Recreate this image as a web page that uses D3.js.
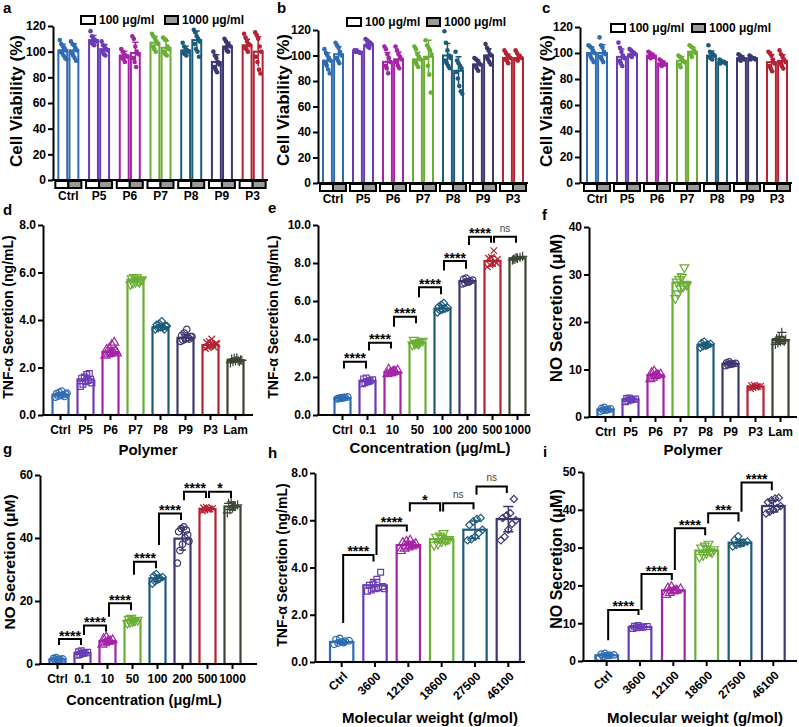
<!DOCTYPE html>
<html><head><meta charset="utf-8">
<script src="https://cdn.jsdelivr.net/npm/d3@7"></script>
<style>body{margin:0;background:#fff}svg{display:block}</style>
</head><body><svg id="c" width="799" height="727"></svg>
<script>
// ---------------- DATA ----------------
const polymers = ["Ctrl","P5","P6","P7","P8","P9","P3"];
const polymersLam = ["Ctrl","P5","P6","P7","P8","P9","P3","Lam"];
const concentrations = ["Ctrl","0.1","10","50","100","200","500","1000"];
const molWeights = ["Ctrl","3600","12100","18600","27500","46100"];
const doseLabels = ["100 μg/ml","1000 μg/ml"];
const viabTicks = [0,20,40,60,80,100,120];

// panel a (cell viability)
const viabA100 = [101,109,97,107,101,92,105];
const viabA1000 = [101,102,99,103,109,104,100];
const ptsA100 = [[109,106,104,103,101,100,99,97,95,94],[116,112,110,109,108,107,106,105],[102,100,98,97,96,95,94,92],[114,112,110,108,106,104,102,100],[107,104,102,101,100,99,98,97],[100,97,95,92,90,88,86,84],[114,111,108,106,105,103,102,100]];
const ptsA1000 = [[108,106,105,103,101,99,97,95,93],[108,105,104,102,101,100,98,97],[112,110,104,100,98,95,92,88],[111,110,109,104,102,100,98,97],[117,115,112,110,108,106,102,100,96],[110,108,106,105,104,103,101,100],[115,113,110,104,100,96,92,86,83]];
// panel b
const viabB100 = [96,103,95,97,100,93,98];
const viabB1000 = [101,108,97,99,88,100,98];
const ptsB100 = [[105,102,100,98,96,94,92,89,86],[104,103.5,103,102.5,102,103,104],[107,105,101,98,95,92,90,86],[107,105,101,99,97,95,93,91],[119,110,104,100,98,96,94,92,90],[98,97,96,94,93,92,90,88],[104,102,100,99,98,97,96,94]];
const ptsB1000 = [[110,108,106,103,100,98,96,94],[113,112,111,110,109,108,107,106],[107,104,101,99,97,95,92,90],[112,108,106,104,101,98,92,85,71],[103,96,94,92,90,87,82,76,72,70],[109,106,104,101,100,99,97,95,93],[104,102,100,99,98,97,96]];
// panel c
const viabC100 = [100,97,98,94,98,96,93];
const viabC1000 = [100,99,92,101,93,96,94];
const ptsC100 = [[106,105,104,102,100,99,97,95,93],[108,104,101,98,96,94,92,90],[101,100,99,98,97,97,96],[98,97,96,94,93,91,89],[106,101,100,99,98,97,96,95],[99,98,97,96,95,95,94],[101,100,98,95,92,90,88,86]];
const ptsC1000 = [[112,106,104,101,99,97,95,93],[103,102,101,100,99,98,97],[95,94,93,92,91,91,90],[106,105,104,102,100,99,97],[95,94,93,93,92,92],[98,97,96,96,95,95],[102,99,97,95,93,92,90,88]];

// panel d: TNF-α vs polymer (ng/mL)
const tnfPolymer = [0.85,1.5,2.65,5.7,3.7,3.25,2.95,2.3];
const ptsD = [[0.75,0.8,0.82,0.85,0.88,0.9,0.95,1.0,0.78,0.92],[1.2,1.3,1.4,1.45,1.5,1.55,1.6,1.7,1.75,1.35],[2.5,2.55,2.6,2.65,2.7,2.75,2.8,2.95,3.05,2.6],[5.5,5.55,5.6,5.65,5.7,5.75,5.8,5.8,5.6,5.7],[3.6,3.65,3.7,3.7,3.75,3.8,3.85,3.95,3.6,3.75],[3.1,3.15,3.2,3.25,3.3,3.35,3.45,3.6,3.2,3.3],[2.8,2.85,2.9,2.95,3.0,3.05,3.1,3.2,2.85,3.0],[2.2,2.25,2.28,2.3,2.32,2.35,2.38,2.4,2.25,2.3]];
// panel e: TNF-α vs concentration
const tnfConc = [0.9,1.8,2.25,3.8,5.6,7.05,8.1,8.25];
const ptsE = [[0.85,0.87,0.9,0.92,0.95,0.88,0.9,0.93],[1.65,1.7,1.75,1.8,1.85,1.9,1.95,1.78],[2.15,2.2,2.25,2.3,2.35,2.4,2.2,2.28],[3.7,3.75,3.8,3.85,3.9,3.95,3.8,3.75],[5.4,5.5,5.55,5.6,5.65,5.7,5.8,5.9],[6.9,6.95,7.0,7.05,7.1,7.15,7.2,7.0],[7.8,7.9,8.0,8.1,8.2,8.25,8.3,8.65,8.0],[8.15,8.2,8.25,8.3,8.35,8.2,8.28]];
const sigE = [[0,1,"****",2.8,2.45,2.45],[1,2,"****",3.8,3.4,3.5],[2,3,"****",5.17,4.65,4.83],[3,4,"****",6.72,6.2,6.35],[4,5,"****",8.1,7.6,7.7],[5,6,"****",9.38,8.95,9.07],[6,7,"ns",9.38,9.07,9.07]];
// panel f: NO vs polymer (μM)
const noPolymer = [1.6,3.7,8.8,28.3,15.2,11.2,6.4,16.2];
const ptsF = [[1.2,1.4,1.5,1.6,1.7,1.8,2.0,1.5],[3.2,3.4,3.6,3.7,3.8,3.9,4.0,3.7],[8.0,8.3,8.6,8.8,9.0,9.3,9.6,8.9],[25.0,26.0,27.0,27.5,28.0,28.5,29.0,29.5,31.5,27.8],[14.6,14.9,15.0,15.2,15.4,15.6,15.9,15.1],[10.8,11.0,11.1,11.2,11.3,11.4,11.6,11.2],[6.0,6.2,6.3,6.4,6.5,6.6,6.7,6.4],[15.3,15.6,15.9,16.1,16.3,16.5,16.8,17.8,16.0]];
// panel g: NO vs concentration
const noConc = [1.5,3.5,7.3,13.8,27.2,39.8,49.2,50.0];
const ptsG = [[1.0,1.2,1.4,1.5,1.6,1.8,2.0,1.5],[2.8,3.0,3.3,3.5,3.7,3.9,4.2,3.5],[6.2,6.6,7.0,7.3,7.6,8.0,8.5,7.2],[13.0,13.3,13.6,13.8,14.0,14.3,14.6,13.8],[25.5,26.2,26.8,27.2,27.6,28.0,28.6,27.0],[32,36,38,40,41,42,43,43.5,42.5,39],[48.6,48.9,49.1,49.2,49.4,49.6,49.8,49.2],[48,49,49.5,50,50.5,51,51.5,50.2]];
const sigG = [[0,1,"****",7.9,6.0,6.0],[1,2,"****",12.2,9.2,10.3],[2,3,"****",19.3,15,17.1],[3,4,"****",32.5,28.3,30.4],[4,5,"****",47.8,37.8,45.7],[5,6,"****",54.7,52,52.7],[6,7,"*",54.7,52.7,52.7]];
// panel h: TNF-α vs molecular weight
const tnfMw = [0.85,3.25,4.95,5.2,5.6,6.05];
const ptsH = [[0.75,0.8,0.85,0.88,0.9,0.95,1.0,0.82],[3.0,3.05,3.1,3.15,3.2,3.25,3.3,3.5,3.8,3.1],[4.7,4.8,4.85,4.9,5.0,5.05,5.1,5.15,4.95],[4.95,5.0,5.1,5.15,5.2,5.3,5.35,5.45,5.2],[5.15,5.2,5.3,5.45,5.6,5.8,5.95,6.05,6.1],[5.15,5.3,5.6,5.85,6.0,6.1,6.2,6.3,6.9]];
const sigH = [[0,1,"****",4.53,1.65,4.25],[1,2,"****",5.78,4.53,5.52],[2,3,"*",6.72,6.37,6.37],[3,4,"ns",6.72,6.37,6.47],[4,5,"ns",7.43,7.08,7.15]];
// panel i: NO vs molecular weight
const noMw = [1.5,9.0,18.7,29.2,31.3,41.0];
const ptsI = [[1.0,1.2,1.4,1.5,1.6,1.8,2.0,1.5],[8.6,8.8,8.9,9.0,9.1,9.2,9.4,9.0],[17.5,18.0,18.4,18.7,19.0,19.3,19.6,18.6],[27.5,28.0,28.5,29.0,29.5,30.0,30.5,31.0,28.8],[30.3,30.7,31.0,31.3,31.6,32.0,33.0,31.2],[39.0,39.5,40.0,40.5,41.0,42.0,42.5,43.0,43.2]];
const sigI = [[0,1,"****",13.5,5.5,12.2],[1,2,"****",23,13.5,21.4],[2,3,"****",35.1,24.1,33.3],[3,4,"***",39.1,36.4,36.9],[4,5,"****",47.2,39.5,45.2]];

// ---------------- STYLE ----------------
const groupColors = ["#2f6cb3","#6a3cb4","#a424a5","#6aae34","#1d5b7b","#3d376f","#b52232","#3a4534"];
const shapes8 = ["circle","square","triangle","triangleDown","diamond","circle","times","plus"];
const shapes6 = ["circle","square","triangle","triangleDown","diamond","diamond"];
const FONT = '"Liberation Sans", Arial, Helvetica, sans-serif';
const svg = d3.select("#c");

function symPath(shape, size){
  const m = {circle:d3.symbolCircle, square:d3.symbolSquare, triangle:d3.symbolTriangle, triangleDown:d3.symbolTriangle,
    diamond:d3.symbolDiamond2||d3.symbolDiamond, times:d3.symbolTimes||d3.symbolCross, plus:d3.symbolPlus||d3.symbolCross};
  return d3.symbol().type(m[shape]).size(size)();
}
function jit(i, half){ return ((i%5)-2)/2*half + (Math.floor(i/5)%2 ? half*0.25 : 0); }

function txt(x,y,s,size,opts={}){
  const t = svg.append("text").attr("x",x).attr("y",y).text(s)
    .style("font-family",FONT).style("font-size",size+"px").style("font-weight",opts.weight||"bold")
    .attr("fill",opts.fill||"#000").attr("text-anchor",opts.anchor||"start");
  if(opts.rot) t.attr("transform",`rotate(${opts.rot},${x},${y})`);
  return t;
}
function yAxis(y, ax, ticks, fmt){
  const a = svg.append("g").attr("transform",`translate(${ax},0)`)
    .call(d3.axisLeft(y).tickValues(ticks).tickFormat(fmt).tickSize(5).tickSizeOuter(0).tickPadding(2));
  a.select(".domain").attr("stroke","#000").attr("stroke-width",2);
  a.selectAll(".tick line").attr("stroke","#000").attr("stroke-width",2);
  a.selectAll(".tick text").attr("fill","#000").style("font-family",FONT).style("font-size","12px").style("font-weight","bold");
}

// ---------- viability panels a-c ----------
function viability(o){
  const y = d3.scaleLinear().domain([0,120]).range([o.yBot,o.yTop]);
  const gx = d3.scaleBand().domain(polymers).range([o.x0,o.x1]);
  const sx = d3.scaleBand().domain(doseLabels).range([-10,10]).paddingInner(0.2);
  const bw = sx.bandwidth();
  const series = [[o.m100,o.p100],[o.m1000,o.p1000]];
  polymers.forEach((cat,gi)=>{
    const cx = gx(cat)+gx.bandwidth()/2, col = groupColors[gi];
    series.forEach(([means,pts],si)=>{
      const bx = cx + sx(doseLabels[si]);
      const m = means[gi], sd = d3.deviation(pts[gi]);
      svg.append("rect").attr("x",bx).attr("y",y(m)).attr("width",bw).attr("height",o.yBot-y(m))
        .attr("fill","#fff").attr("stroke",col).attr("stroke-width",2);
      const mx = bx+bw/2;
      pts[gi].forEach((v,i)=>svg.append("circle").attr("cx",mx+jit(i,3)).attr("cy",y(v)).attr("r",2.3).attr("fill",col));
      svg.append("path").attr("d",`M${mx},${y(m-sd)}V${y(m+sd)}M${mx-3},${y(m+sd)}H${mx+3}`)
        .attr("stroke",col).attr("stroke-width",1.5).attr("fill","none");
    });
    svg.append("rect").attr("x",cx-13).attr("y",o.yBot+1).attr("width",13).attr("height",7).attr("fill","#fff").attr("stroke","#000").attr("stroke-width",2);
    svg.append("rect").attr("x",cx).attr("y",o.yBot+1).attr("width",13).attr("height",7).attr("fill","#9a9a9a").attr("stroke","#000").attr("stroke-width",2);
    txt(cx,o.yBot+20,cat,12,{anchor:"middle"});
  });
  svg.append("line").attr("x1",o.x0-1).attr("x2",o.x1).attr("y1",o.yBot).attr("y2",o.yBot).attr("stroke","#000").attr("stroke-width",2);
  yAxis(y,o.ax,viabTicks,d3.format("d"));
  svg.append("rect").attr("x",o.lx1).attr("y",o.ly-8).attr("width",14).attr("height",8).attr("fill","#fff").attr("stroke","#000").attr("stroke-width",2);
  txt(o.lx1+18,o.ly,doseLabels[0],12);
  svg.append("rect").attr("x",o.lx2).attr("y",o.ly-8).attr("width",13).attr("height",8).attr("fill","#9a9a9a").attr("stroke","#000").attr("stroke-width",2);
  txt(o.lx2+17,o.ly,doseLabels[1],12);
  txt(o.tx,o.ty,"Cell Viability (%)",17,{anchor:"middle",rot:-90});
  txt(o.lab[0],o.lab[1],o.label,15);
}
viability({x0:53,x1:268,ax:53,yBot:180,yTop:26,m100:viabA100,m1000:viabA1000,p100:ptsA100,p1000:ptsA1000,lx1:81,lx2:165,ly:24,tx:22,ty:101,lab:[3,13],label:"a"});
viability({x0:318,x1:528,ax:318,yBot:183,yTop:30,m100:viabB100,m1000:viabB1000,p100:ptsB100,p1000:ptsB1000,lx1:347,lx2:427,ly:26,tx:289,ty:100,lab:[277,13],label:"b"});
viability({x0:582,x1:792,ax:580,yBot:183,yTop:27,m100:viabC100,m1000:viabC1000,p100:ptsC100,p1000:ptsC1000,lx1:611,lx2:692,ly:32,tx:552,ty:101,lab:[542,13],label:"c"});

// ---------- bar panels d-i ----------
function barPanel(o){
  const y = d3.scaleLinear().domain(o.domain).range([o.yBot,o.yTop]);
  const x = d3.scaleBand().domain(o.cats).range([o.x0,o.x1]).paddingInner(o.pad).paddingOuter(o.pad/2);
  const bw = x.bandwidth();
  o.cats.forEach((c,i)=>{
    const col = groupColors[i], m = o.means[i], sd = d3.deviation(o.pts[i]);
    const bx = x(c), cx = bx+bw/2;
    svg.append("rect").attr("x",bx).attr("y",y(m)).attr("width",bw).attr("height",o.yBot-y(m))
      .attr("fill","#fff").attr("stroke",col).attr("stroke-width",2.2);
    const sh = o.shapes[i];
    o.pts[i].forEach((v,k)=>{
      let tr = `translate(${cx+jit(k,bw*0.32)},${y(v)})`;
      if(sh==="triangleDown") tr += " rotate(180)";
      svg.append("path").attr("d",symPath(sh, sh==="times"||sh==="plus"?30:34)).attr("transform",tr)
        .attr("fill","none").attr("stroke",col).attr("stroke-width",1.2);
    });
    svg.append("path").attr("d",`M${cx},${y(m-sd)}V${y(m+sd)}M${cx-bw*0.22},${y(m+sd)}H${cx+bw*0.22}M${cx-bw*0.22},${y(m-sd)}H${cx+bw*0.22}`)
      .attr("stroke",col).attr("stroke-width",1.5).attr("fill","none");
  });
  const xa = svg.append("g").attr("transform",`translate(0,${o.yBot})`)
    .call(d3.axisBottom(x).tickSize(5).tickSizeOuter(0).tickPadding(5));
  xa.select(".domain").attr("d",`M${o.ax-1},0H${o.xEnd}`).attr("stroke","#000").attr("stroke-width",2);
  xa.selectAll(".tick line").attr("stroke","#000").attr("stroke-width",2);
  const tt = xa.selectAll(".tick text").attr("fill","#000").style("font-family",FONT).style("font-size","12px").style("font-weight","bold");
  if(o.rotate){
    tt.attr("text-anchor","end").attr("transform","rotate(-45)").attr("x",-6).attr("y",11).attr("dy","0.35em");
  }
  yAxis(y,o.ax,o.ticks,o.fmt);
  (o.sig||[]).forEach(([a,b,lab,ly,l1,l2])=>{
    const xa1 = x(o.cats[a])+bw/2+1.5, xb1 = x(o.cats[b])+bw/2-1.5;
    svg.append("path").attr("d",`M${xa1},${y(l1)}V${y(ly)}H${xb1}V${y(l2)}`)
      .attr("fill","none").attr("stroke","#000").attr("stroke-width",2);
    if(lab==="ns") txt((xa1+xb1)/2,y(ly)-5,"ns",10,{anchor:"middle",weight:"normal",fill:"#444"});
    else txt((xa1+xb1)/2,y(ly)+1.5,lab,14,{anchor:"middle"});
  });
  txt(o.tx,o.ty,o.yTitle,o.yTitleSize,{anchor:"middle",rot:-90});
  txt(o.xtX,o.xtY,o.xTitle,o.xTitleSize||15,{anchor:"middle"});
  txt(o.lab[0],o.lab[1],o.label,15);
}
const f1 = d3.format(".1f"), fd = d3.format("d");
barPanel({cats:polymersLam,means:tnfPolymer,pts:ptsD,shapes:shapes8,domain:[0,8],ticks:[0,2,4,6,8],fmt:f1,
  x0:48,x1:248,pad:0.36,ax:43,xEnd:253,yBot:415,yTop:225,yTitle:"TNF-α Secretion (ng/mL)",yTitleSize:14,tx:13,ty:317,
  xTitle:"Polymer",xtX:148,xtY:455,lab:[3,215],label:"d"});
barPanel({cats:concentrations,means:tnfConc,pts:ptsE,shapes:shapes8,domain:[0,10],ticks:[0,2,4,6,8,10],fmt:f1,
  x0:330,x1:530,pad:0.36,ax:318,xEnd:530,yBot:415,yTop:225,yTitle:"TNF-α Secretion (ng/mL)",yTitleSize:14,tx:278,ty:317,
  xTitle:"Concentration (μg/mL)",xtX:430,xtY:453,lab:[268,213],label:"e",sig:sigE});
barPanel({cats:polymersLam,means:noPolymer,pts:ptsF,shapes:shapes8,domain:[0,40],ticks:[0,10,20,30,40],fmt:fd,
  x0:593,x1:793,pad:0.36,ax:589,xEnd:797,yBot:417,yTop:227,yTitle:"NO Secretion (μM)",yTitleSize:17,tx:562,ty:308,
  xTitle:"Polymer",xtX:693,xtY:455,lab:[542,220],label:"f"});
barPanel({cats:concentrations,means:noConc,pts:ptsG,shapes:shapes8,domain:[0,60],ticks:[0,20,40,60],fmt:fd,
  x0:45,x1:245,pad:0.36,ax:40,xEnd:257,yBot:664,yTop:475,yTitle:"NO Secretion (μM)",yTitleSize:15.5,tx:15,ty:562,
  xTitle:"Concentration (μg/mL)",xTitleSize:14.5,xtX:144,xtY:705,lab:[3,454],label:"g",sig:sigG});
barPanel({cats:molWeights,means:tnfMw,pts:ptsH,shapes:shapes6,domain:[0,8],ticks:[0,2,4,6,8],fmt:f1,rotate:true,
  x0:325,x1:525,pad:0.3,ax:315,xEnd:525,yBot:662,yTop:473,yTitle:"TNF-α Secretion (ng/mL)",yTitleSize:14,tx:287,ty:565,
  xTitle:"Molecular weight (g/mol)",xtX:430,xtY:723,lab:[268,458],label:"h",sig:sigH});
barPanel({cats:molWeights,means:noMw,pts:ptsI,shapes:shapes6,domain:[0,50],ticks:[0,10,20,30,40,50],fmt:fd,rotate:true,
  x0:590,x1:790,pad:0.32,ax:583,xEnd:797,yBot:661,yTop:472,yTitle:"NO Secretion (μM)",yTitleSize:16,tx:562,ty:559,
  xTitle:"Molecular weight (g/mol)",xtX:695,xtY:723,lab:[543,457],label:"i",sig:sigI});
</script></body></html>
